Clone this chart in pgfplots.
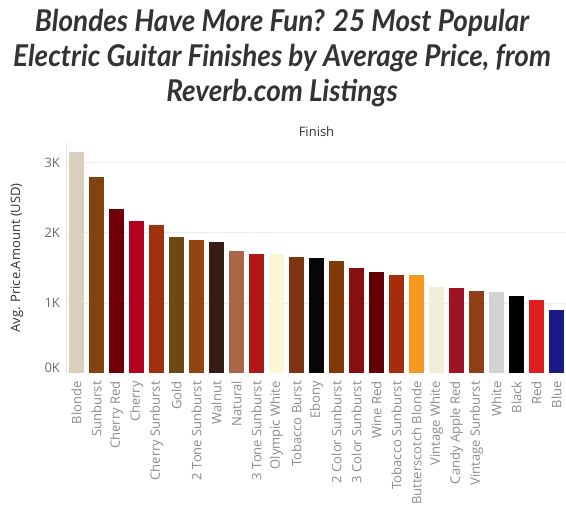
\documentclass[border=0pt]{standalone}
\usepackage{pgfplots}
\pgfplotsset{compat=1.18}
\usepackage{fontspec}
\setmainfont{Open Sans}
\newfontfamily\titlefont{Lato}
\definecolor{titlegray}{HTML}{333333}
\definecolor{ytl}{HTML}{6A6A72}
\definecolor{xtl}{HTML}{8A8A8A}
\definecolor{c0}{HTML}{D8D0BD}
\definecolor{c1}{HTML}{834311}
\definecolor{c2}{HTML}{700008}
\definecolor{c3}{HTML}{B5001E}
\definecolor{c4}{HTML}{A0300E}
\definecolor{c5}{HTML}{6F4712}
\definecolor{c6}{HTML}{914512}
\definecolor{c7}{HTML}{381B17}
\definecolor{c8}{HTML}{AB6648}
\definecolor{c9}{HTML}{B01818}
\definecolor{c10}{HTML}{FAF7D2}
\definecolor{c11}{HTML}{7E3311}
\definecolor{c12}{HTML}{060606}
\definecolor{c13}{HTML}{823905}
\definecolor{c14}{HTML}{870F10}
\definecolor{c15}{HTML}{620003}
\definecolor{c16}{HTML}{A52D0B}
\definecolor{c17}{HTML}{F9981E}
\definecolor{c18}{HTML}{F1EEDC}
\definecolor{c19}{HTML}{9E1324}
\definecolor{c20}{HTML}{8F3F18}
\definecolor{c21}{HTML}{D3D3D3}
\definecolor{c22}{HTML}{000000}
\definecolor{c23}{HTML}{DF1F1D}
\definecolor{c24}{HTML}{1A1A85}
\newcommand\tf{\titlefont\bfseries\itshape\fontsize{30}{33}\selectfont}
\newcommand\lf{\fontsize{13}{15}\selectfont}
\begin{document}
\begin{tikzpicture}[x=1pt,y=1pt]
\useasboundingbox (0,0) rectangle (566,514);
\begin{scope}[every node/.style={anchor=base, text=titlegray, inner sep=0pt}]
\node at (282,482) {\tf\scalebox{0.93}[1]{Blondes Have More Fun? 25 Most Popular}};
\node at (282,447) {\tf\scalebox{0.93}[1]{Electric Guitar Finishes by Average Price, from}};
\node at (282,412) {\tf\scalebox{0.93}[1]{Reverb.com Listings}};
\end{scope}
\begin{axis}[
  at={(66.5pt,140.5pt)}, anchor=south west,
  scale only axis, width=500pt, height=231.5pt,
  xmin=-0.5, xmax=24.5, ymin=0, ymax=3290,
  ybar, bar width=15pt, bar shift=0pt,
  axis lines*=left,
  y axis line style={draw=black!10},
  x axis line style={draw=none},
  ytick={1000,2000,3000}, yticklabels={1K,2K,3K},
  extra y ticks={0}, extra y tick labels={0K},
  extra y tick style={grid=none, yticklabel style={yshift=6pt}},
  y tick style={draw=none},
  yticklabel style={text=ytl, font=\lf, xshift=-3pt},
  ymajorgrids, grid style={draw=black!7, line width=0.8pt},
  xtick={0,...,24},
  xticklabels={Blonde,Sunburst,Cherry Red,Cherry,Cherry Sunburst,Gold,2 Tone Sunburst,Walnut,Natural,3 Tone Sunburst,Olympic White,Tobacco Burst,Ebony,2 Color Sunburst,3 Color Sunburst,Wine Red,Tobacco Sunburst,Butterscotch Blonde,Vintage White,Candy Apple Red,Vintage Sunburst,White,Black,Red,Blue},
  x tick style={draw=none},
  xticklabel style={rotate=90, anchor=east, text=xtl, font=\lf},
  extra x ticks={-0.5,0.5,...,24.5}, extra x tick labels={},
  extra x tick style={grid=none, tick align=outside, major tick length=5pt, tick style={draw=black!15}},
  ylabel={Avg. Price.Amount (USD)},
  ylabel style={at={(axis description cs:-0.099,0.5)}, anchor=center, text=titlegray, font=\lf},
  /pgf/number format/assume math mode=true,
  clip=false,
]
\addplot[fill=c0, draw=none] coordinates {(0,3146)};
\addplot[fill=c1, draw=none] coordinates {(1,2790)};
\addplot[fill=c2, draw=none] coordinates {(2,2337)};
\addplot[fill=c3, draw=none] coordinates {(3,2166)};
\addplot[fill=c4, draw=none] coordinates {(4,2110)};
\addplot[fill=c5, draw=none] coordinates {(5,1940)};
\addplot[fill=c6, draw=none] coordinates {(6,1896)};
\addplot[fill=c7, draw=none] coordinates {(7,1868)};
\addplot[fill=c8, draw=none] coordinates {(8,1740)};
\addplot[fill=c9, draw=none] coordinates {(9,1697)};
\addplot[fill=c10, draw=none] coordinates {(10,1697)};
\addplot[fill=c11, draw=none] coordinates {(11,1655)};
\addplot[fill=c12, draw=none] coordinates {(12,1640)};
\addplot[fill=c13, draw=none] coordinates {(13,1598)};
\addplot[fill=c14, draw=none] coordinates {(14,1499)};
\addplot[fill=c15, draw=none] coordinates {(15,1440)};
\addplot[fill=c16, draw=none] coordinates {(16,1399)};
\addplot[fill=c17, draw=none] coordinates {(17,1399)};
\addplot[fill=c18, draw=none] coordinates {(18,1229)};
\addplot[fill=c19, draw=none] coordinates {(19,1214)};
\addplot[fill=c20, draw=none] coordinates {(20,1172)};
\addplot[fill=c21, draw=none] coordinates {(21,1157)};
\addplot[fill=c22, draw=none] coordinates {(22,1100)};
\addplot[fill=c23, draw=none] coordinates {(23,1044)};
\addplot[fill=c24, draw=none] coordinates {(24,902)};
\node[text=titlegray, font=\lf] at (axis description cs:0,1) [xshift=250pt, yshift=10pt] {Finish};
\end{axis}
\end{tikzpicture}
\end{document}
